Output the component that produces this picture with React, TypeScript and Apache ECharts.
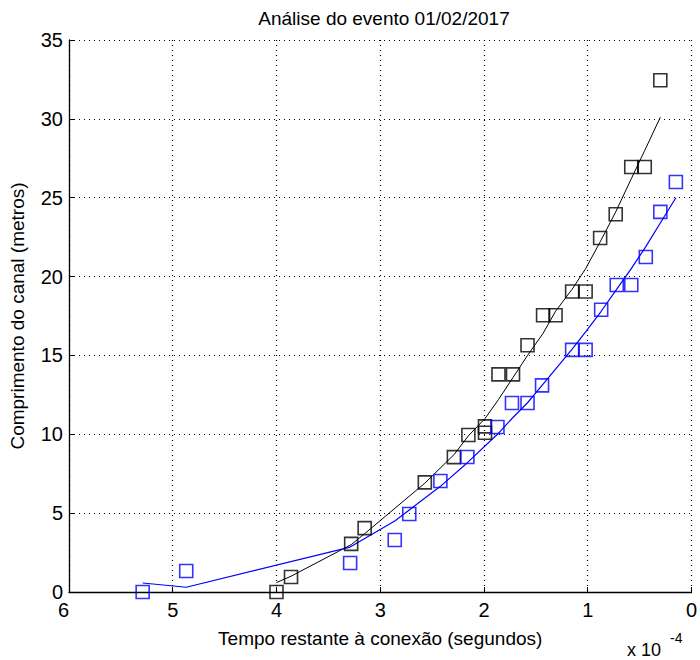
import React, { useEffect, useRef } from "react";
import * as echarts from "echarts";

// Time remaining to the connection (units of 1e-4 s) and channel length (m)
const blackTime = [4.0, 3.86, 3.28, 3.15, 2.57, 2.29, 2.15, 1.99, 1.99, 1.86, 1.72, 1.58, 1.43, 1.31, 1.15, 1.02, 0.88, 0.73, 0.58, 0.45, 0.3];
const blackLength = [0.0, 0.95, 3.05, 4.05, 6.95, 8.55, 9.95, 10.1, 10.5, 13.8, 13.8, 15.65, 17.55, 17.55, 19.05, 19.05, 22.45, 23.95, 26.95, 26.95, 32.45];
const blackFit = [0.6, 1.0, 3.0, 3.7, 6.9, 8.7, 9.9, 11.0, 11.0, 12.2, 13.6, 15.0, 16.4, 17.8, 19.2, 20.5, 22.2, 24.1, 26.2, 28.0, 30.1];

const blueTime = [5.29, 4.87, 3.29, 2.86, 2.72, 2.42, 2.16, 1.87, 1.73, 1.58, 1.44, 1.15, 1.02, 0.87, 0.72, 0.58, 0.44, 0.3, 0.15];
const blueLength = [0.0, 1.33, 1.84, 3.3, 4.95, 7.04, 8.56, 10.46, 11.98, 11.98, 13.1, 15.35, 15.35, 17.9, 19.47, 19.47, 21.24, 24.1, 26.0];
const blueFit = [0.57, 0.3, 2.85, 4.5, 5.2, 6.7, 8.2, 10.0, 11.0, 12.0, 13.1, 15.4, 16.5, 17.8, 19.2, 20.5, 21.9, 23.4, 25.0];

const xTicks = [0, 1, 2, 3, 4, 5, 6];
const yTicks = [0, 5, 10, 15, 20, 25, 30, 35];

const FONT = "'Liberation Sans', Arial, sans-serif";

const pairs = (xs: number[], ys: number[]) => xs.map((x, i) => [x, ys[i]]);

export default function App() {
  const ref = useRef<HTMLDivElement>(null);

  useEffect(() => {
    if (!ref.current) return;
    const chart = echarts.init(ref.current, undefined, { renderer: "svg" });

    const axisCommon = {
      type: "value" as const,
      axisLine: { show: true, onZero: false, lineStyle: { color: "#000", width: 1.3 } },
      axisTick: { show: true, inside: true, length: 5, lineStyle: { color: "#000" } },
      axisLabel: { color: "#000", fontFamily: FONT, fontSize: 20 },
      splitLine: { show: true, lineStyle: { color: "#000", type: [1, 4] as any, width: 1.2 } },
      nameTextStyle: { color: "#000", fontFamily: FONT, fontSize: 19 },
    };

    const markerStyle = (color: string) => ({
      color: "rgba(0,0,0,0)",
      borderColor: color,
      borderWidth: 1.6,
    });

    chart.setOption({
      animation: false,
      backgroundColor: "#fff",
      title: {
        text: "Análise do evento 01/02/2017",
        left: 379,
        textAlign: "center",
        top: 4,
        textStyle: { color: "#000", fontFamily: FONT, fontSize: 19, fontWeight: "normal" },
      },
      grid: { left: 68, top: 40, width: 629, height: 552 },
      xAxis: {
        ...axisCommon,
        inverse: true,
        min: xTicks[0],
        max: xTicks[xTicks.length - 1],
        interval: 1,
        name: "Tempo restante à conexão (segundos)",
        nameLocation: "middle",
        nameGap: 37,
        axisLabel: { ...axisCommon.axisLabel, margin: 8, alignMaxLabel: "right" },
      },
      yAxis: {
        ...axisCommon,
        min: yTicks[0],
        max: yTicks[yTicks.length - 1],
        interval: 5,
        name: "Comprimento do canal (metros)",
        nameLocation: "middle",
        nameGap: 42,
        axisLabel: { ...axisCommon.axisLabel, margin: 6 },
      },
      graphic: [
        {
          type: "text",
          left: 627,
          top: 641,
          style: { text: "x 10", fill: "#000", font: `18px ${FONT}` },
        },
        {
          type: "text",
          left: 670,
          top: 631,
          style: { text: "-4", fill: "#000", font: `14px ${FONT}` },
        },
      ],
      series: [
        {
          type: "line",
          data: pairs(blackTime, blackFit),
          showSymbol: false,
          lineStyle: { color: "#000", width: 1 },
          clip: false,
          z: 2,
        },
        {
          type: "line",
          data: pairs(blueTime, blueFit),
          showSymbol: false,
          lineStyle: { color: "#0000ff", width: 1.2 },
          clip: false,
          z: 2,
        },
        {
          type: "scatter",
          data: pairs(blackTime, blackLength),
          symbol: "rect",
          symbolSize: 13,
          itemStyle: markerStyle("#000"),
          clip: false,
          z: 3,
        },
        {
          type: "scatter",
          data: pairs(blueTime, blueLength),
          symbol: "rect",
          symbolSize: 13,
          itemStyle: markerStyle("#0000ff"),
          clip: false,
          z: 3,
        },
      ],
    });

    return () => chart.dispose();
  }, []);

  return (
    <div
      ref={ref}
      style={{ position: "fixed", left: 0, top: 0, width: 700, height: 660 }}
    />
  );
}
